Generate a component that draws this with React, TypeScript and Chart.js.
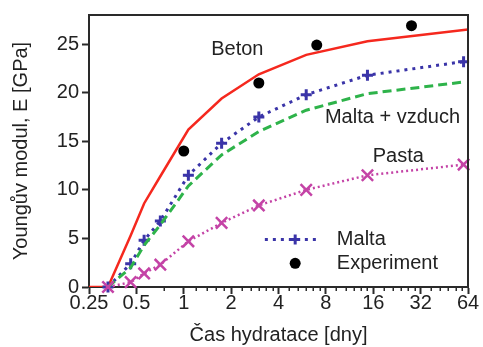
import React, { useEffect, useRef } from "react";
import { Chart, registerables } from "chart.js";

Chart.register(...registerables);

// ---- data ----
const timeDays = [0.33, 0.46, 0.56, 0.71, 1.07, 1.74, 3.0, 6.0, 14.7, 60];
const betonTime = [0.25, 0.33, 0.46, 0.56, 0.71, 1.07, 1.74, 3.0, 6.0, 14.7, 64];
const betonE = [0, 0, 5.3, 8.6, 11.4, 16.2, 19.4, 21.9, 23.9, 25.3, 26.5];
const maltaE = [0, 2.4, 4.8, 6.8, 11.5, 14.8, 17.5, 19.8, 21.8, 23.2];
const maltaVzduchE = [0, 2.0, 4.3, 6.4, 10.4, 13.6, 16.0, 18.2, 19.9, 21.1];
const pastaE = [0, 0.5, 1.4, 2.3, 4.7, 6.6, 8.4, 10.0, 11.5, 12.6];
const expDays = [1, 3, 7, 28];
const expE = [14, 21, 24.9, 26.9];

const xTickValues = [0.25, 0.5, 1, 2, 4, 8, 16, 32, 64];
const xMinorTicks = [
  0.75,
  1.2, 1.4, 1.6, 1.8,
  2.33, 2.67, 3.0, 3.33, 3.67,
  4.67, 5.33, 6.0, 6.67, 7.33,
  9.33, 10.67, 12.0, 13.33, 14.67,
  18.67, 21.33, 24.0, 26.67, 29.33,
  37.33, 42.67, 48.0, 53.33, 58.67,
];
const yTickValues = [0, 5, 10, 15, 20, 25];

// annotation labels (text, x in days, y in GPa)
const labelTexts = ["Beton", "Malta + vzduch", "Pasta"];
const labelX = [2.19, 21.2, 23.1];
const labelY = [24.46, 17.4, 13.4];

const FONT = "'Liberation Sans', Arial, Helvetica, sans-serif";
const TEXT = "#222222";
const AXIS = "#2a2a2a";
const RED = "#f5281e";
const BLUE = "#3a34a8";
const GREEN = "#2eb34a";
const MAGENTA = "#c443a6";

const pts = (xs: number[], ys: number[]) => xs.map((x, i) => ({ x, y: ys[i] }));

export default function App() {
  const ref = useRef<HTMLCanvasElement>(null);

  useEffect(() => {
    document.body.style.margin = "0";
    const canvas = ref.current!;

    const framePlugin = {
      id: "frame",
      afterDraw(chart: any) {
        const { ctx, chartArea: a, scales } = chart;
        ctx.save();
        // top & right frame
        ctx.strokeStyle = AXIS;
        ctx.lineWidth = 2;
        ctx.beginPath();
        ctx.moveTo(a.left - 1, a.top);
        ctx.lineTo(a.right, a.top);
        ctx.lineTo(a.right, a.bottom + 1);
        ctx.stroke();
        // minor x ticks
        ctx.lineWidth = 1.5;
        ctx.beginPath();
        for (const v of xMinorTicks) {
          const px = Math.round(scales.x.getPixelForValue(v)) + 0.25;
          ctx.moveTo(px, a.bottom);
          ctx.lineTo(px, a.bottom + 4);
        }
        ctx.stroke();
        ctx.restore();
      },
      afterDatasetsDraw(chart: any) {
        const { ctx, chartArea: a, scales } = chart;
        ctx.save();
        ctx.font = `20px ${FONT}`;
        ctx.fillStyle = TEXT;
        ctx.textAlign = "center";
        ctx.textBaseline = "middle";
        labelTexts.forEach((t, i) => {
          ctx.fillText(t, scales.x.getPixelForValue(labelX[i]), scales.y.getPixelForValue(labelY[i]));
        });
        // legend
        const w = a.right - a.left;
        const h = a.bottom - a.top;
        const y1 = a.top + 0.825 * h;
        const y2 = a.top + 0.913 * h;
        const lx0 = a.left + 0.464 * w;
        const lx1 = a.left + 0.61 * w;
        const mx = a.left + 0.544 * w;
        const tx = a.left + 0.654 * w;
        ctx.strokeStyle = BLUE;
        ctx.lineWidth = 3;
        ctx.setLineDash([3, 5]);
        ctx.beginPath();
        ctx.moveTo(lx0, y1);
        ctx.lineTo(lx1, y1);
        ctx.stroke();
        ctx.setLineDash([]);
        ctx.beginPath();
        ctx.moveTo(mx - 5, y1);
        ctx.lineTo(mx + 5, y1);
        ctx.moveTo(mx, y1 - 5);
        ctx.lineTo(mx, y1 + 5);
        ctx.stroke();
        ctx.fillStyle = "#000";
        ctx.beginPath();
        ctx.arc(mx, y2, 5.5, 0, Math.PI * 2);
        ctx.fill();
        ctx.fillStyle = TEXT;
        ctx.textAlign = "left";
        ctx.fillText("Malta", tx, y1);
        ctx.fillText("Experiment", tx, y2);
        ctx.restore();
      },
    };

    const chart = new Chart(canvas, {
      type: "line",
      data: {
        datasets: [
          {
            label: "Pasta",
            data: pts(timeDays, pastaE),
            borderColor: MAGENTA,
            backgroundColor: MAGENTA,
            borderWidth: 2.5,
            borderDash: [2, 3],
            pointStyle: "crossRot",
            pointRadius: 8,
            pointBorderWidth: 2.5,
            pointBorderColor: MAGENTA,
            clip: false,
          },
          {
            label: "Malta + vzduch",
            data: pts(timeDays, maltaVzduchE),
            borderColor: GREEN,
            borderWidth: 3,
            borderDash: [9, 5],
            pointRadius: 0,
          },
          {
            label: "Malta",
            data: pts(timeDays, maltaE),
            borderColor: BLUE,
            backgroundColor: BLUE,
            borderWidth: 3,
            borderDash: [3, 5],
            pointStyle: "cross",
            pointRadius: 5.5,
            pointBorderWidth: 3,
            pointBorderColor: BLUE,
            clip: false,
          },
          {
            label: "Beton",
            data: pts(betonTime, betonE),
            borderColor: RED,
            borderWidth: 2.5,
            pointRadius: 0,
          },
          {
            label: "Experiment",
            data: pts(expDays, expE),
            showLine: false,
            pointStyle: "circle",
            pointRadius: 5.5,
            pointBorderWidth: 0,
            backgroundColor: "#000",
            borderColor: "#000",
            clip: false,
          },
        ],
      },
      options: {
        animation: false,
        responsive: false,
        events: [],
        layout: { padding: { top: 12, right: 15, left: 0, bottom: 0 } },
        plugins: { legend: { display: false }, tooltip: { enabled: false } },
        scales: {
          x: {
            type: "logarithmic",
            min: 0.25,
            max: 64,
            afterBuildTicks: (s: any) => {
              s.ticks = xTickValues.map((v) => ({ value: v }));
            },
            afterFit: (s: any) => {
              s.height = 60;
            },
            ticks: {
              callback: (v: any) => String(v),
              font: { family: FONT, size: 20 },
              color: TEXT,
              maxRotation: 0,
              autoSkip: false,
              padding: -3,
            },
            grid: { drawOnChartArea: false, tickLength: 7, tickWidth: 2, tickColor: AXIS },
            border: { display: true, width: 2, color: AXIS },
            title: {
              display: true,
              text: "Čas hydratace [dny]",
              font: { family: FONT, size: 20 },
              color: TEXT,
              padding: { top: 0, bottom: 0 },
            },
          },
          y: {
            type: "linear",
            min: 0,
            max: 28,
            afterBuildTicks: (s: any) => {
              s.ticks = yTickValues.map((v) => ({ value: v }));
            },
            afterFit: (s: any) => {
              s.width = 89;
            },
            ticks: {
              font: { family: FONT, size: 20 },
              color: TEXT,
              padding: 3,
            },
            grid: { drawOnChartArea: false, tickLength: 7, tickWidth: 2, tickColor: AXIS },
            border: { display: true, width: 2, color: AXIS },
            title: {
              display: true,
              text: "Youngův modul, E [GPa]",
              font: { family: FONT, size: 20 },
              color: TEXT,
              padding: { top: 9, bottom: 0 },
            },
          },
        },
      },
      plugins: [framePlugin],
    });

    return () => chart.destroy();
  }, []);

  return (
    <div style={{ width: 483, height: 347 }}>
      <canvas ref={ref} width={483} height={347} style={{ display: "block" }} />
    </div>
  );
}
